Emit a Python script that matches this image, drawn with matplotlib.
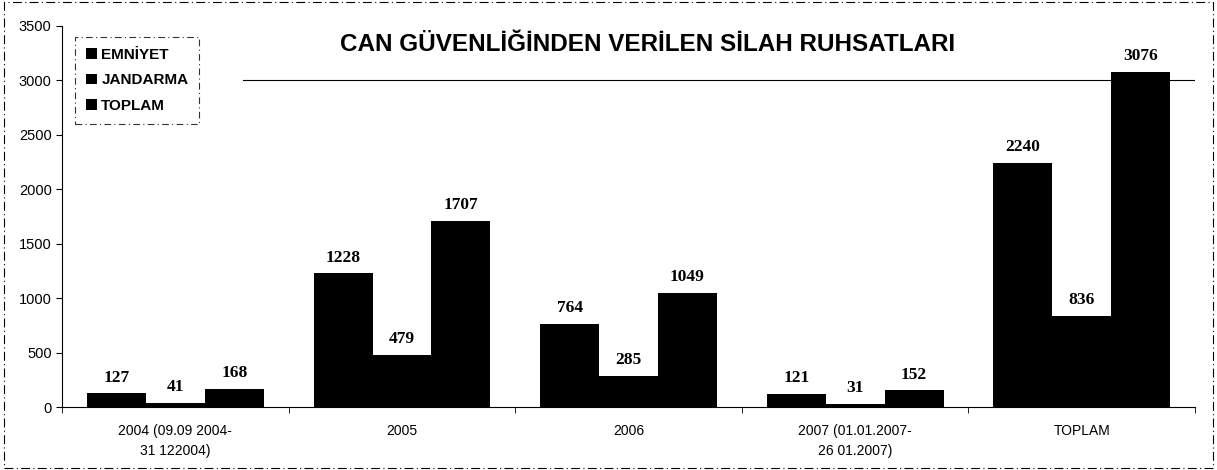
import matplotlib.pyplot as plt
import numpy as np

categories = ['2004 (09.09 2004-\n31 122004)', '2005', '2006',
              '2007 (01.01.2007-\n26 01.2007)', 'TOPLAM']
emniyet = [127, 1228, 764, 121, 2240]
jandarma = [41, 479, 285, 31, 836]
toplam = [168, 1707, 1049, 152, 3076]
series_names = ['EMNİYET', 'JANDARMA', 'TOPLAM']

plt.rcParams['font.family'] = ['Liberation Sans', 'DejaVu Sans']

fig = plt.figure(figsize=(12.17, 4.70), dpi=100)
ax = fig.add_axes([0.051, 0.134, 0.931, 0.811])

x = np.arange(len(categories))
w = 0.26
for i, vals in enumerate([emniyet, jandarma, toplam]):
    ax.bar(x + (i - 1) * w, vals, w, color='black', label=series_names[i])
    for xi, v in zip(x + (i - 1) * w, vals):
        ax.text(xi, v + 70, str(v), ha='center', va='bottom',
                fontsize=12.5, fontweight='bold', family='Liberation Serif')

ax.set_xlim(-0.5, len(categories) - 0.5)
ax.set_ylim(0, 3500)
ax.set_yticks(np.arange(0, 3501, 500))
ax.set_xticks(x)
ax.set_xticklabels(categories, fontsize=10, linespacing=1.6)
ax.tick_params(axis='x', length=0, pad=12)
ax.set_xticks(np.arange(-0.5, len(categories), 1), minor=True)
ax.tick_params(axis='x', which='minor', length=4, direction='out')
ax.tick_params(axis='y', labelsize=10.5, length=4)

ax.axhline(3000, color='black', lw=0.8, xmin=0.16)
for s in ['top', 'right']:
    ax.spines[s].set_visible(False)

ax.text(0.517, 0.95, 'CAN GÜVENLİĞİNDEN VERİLEN SİLAH RUHSATLARI',
        transform=ax.transAxes, ha='center', va='center',
        fontsize=17.5, fontweight='bold')

leg = ax.legend(loc='upper left', bbox_to_anchor=(0.005, 0.99),
                prop={'weight': 'bold', 'size': 11}, handlelength=0.7,
                handleheight=0.7, handletextpad=0.3, fancybox=False,
                borderpad=0.7, labelspacing=0.75)
leg.get_frame().set_edgecolor('black')
leg.get_frame().set_linestyle((0, (6, 3, 1, 3)))
leg.get_frame().set_linewidth(0.8)

fig.patches.append(plt.Rectangle((0.003, 0.005), 0.994, 0.99, transform=fig.transFigure,
                                 fill=False, edgecolor='black', lw=0.8,
                                 linestyle=(0, (8, 3, 1, 3))))

fig.savefig('out.png', dpi=100)
